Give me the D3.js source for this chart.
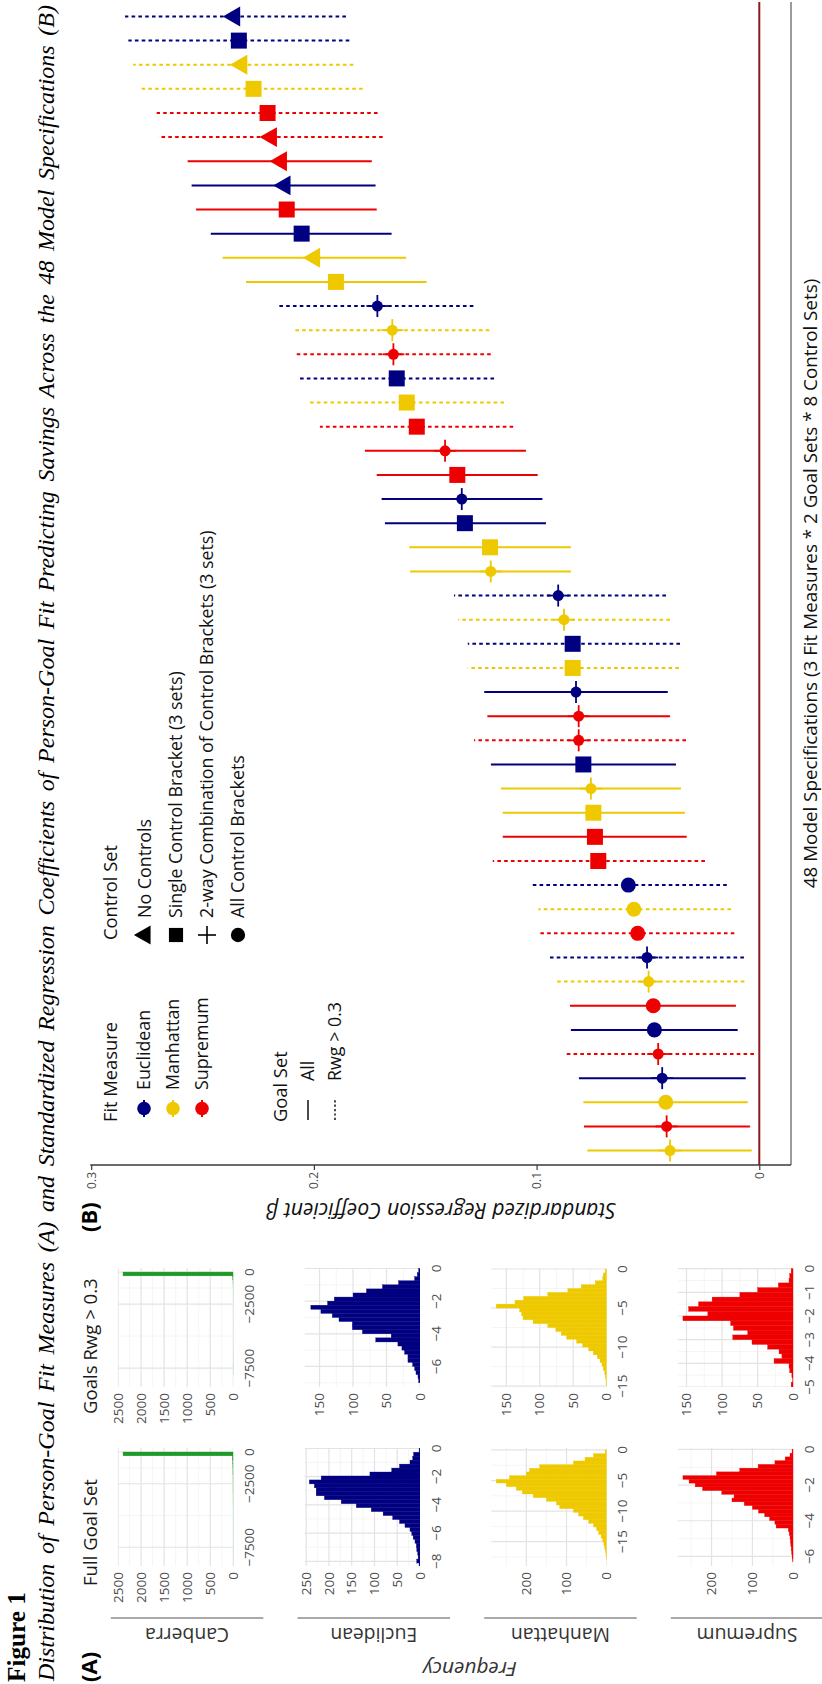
<!DOCTYPE html>
<html><head><meta charset="utf-8">
<script src="https://cdn.jsdelivr.net/npm/d3@7"></script>
<style>html,body{margin:0;padding:0;background:#fff;} svg{display:block;}</style>
</head><body>
<script>
// ================= DATA =================
const subtitleText = "Distribution of Person-Goal Fit Measures (A) and Standardized Regression Coefficients of Person-Goal Fit Predicting Savings Across the 48 Model Specifications (B)";
const fitMeasures = ["Euclidean", "Manhattan", "Supremum"];
const goalSets = ["All", "Rwg > 0.3"];
const controlSets = ["No Controls", "Single Control Bracket (3 sets)", "2-way Combination of Control Brackets (3 sets)", "All Control Brackets"];
const histRows = ["Canberra", "Euclidean", "Manhattan", "Supremum"];
const histCols = ["Full Goal Set", "Goals Rwg > 0.3"];

// Panel B: 48 specifications ordered by estimate (E/M/S fit; A/R goal set; N/S/T/A control set)
const specFit = "M S M E S E S M E S M E S S M M E S S E M E M E M M E E S S S M E S M E M M E S E S S S M M E E".split(" ");
const specGoal = "A A A A R A A R R R R R R A A A A R A A R R R R A A A A A A R R R R R R A A A A A A R R R R R R".split(" ");
const specControl = "T T A T T A A T T A A A S S S T S T T T S S T T T S S T S T S S S T T T S N S S N N N S S N S N".split(" ");
const specEstimate = [0.0401,0.0416,0.0420,0.0436,0.0454,0.0471,0.0476,0.0497,0.0504,0.0546,0.0563,0.0588,0.0723,0.0738,0.0745,0.0756,0.0790,0.0811,0.0811,0.0823,0.0838,0.0838,0.0877,0.0903,0.1206,0.1209,0.1322,0.1336,0.1356,0.1411,0.1538,0.1583,0.1628,0.1643,0.1648,0.1715,0.1901,0.1998,0.2055,0.2122,0.2131,0.2147,0.2192,0.2208,0.2271,0.2325,0.2337,0.2357];
const specLower = [0.0034,0.0042,0.0052,0.0061,0.0024,0.0097,0.0105,0.0067,0.0069,0.0112,0.0127,0.0146,0.0244,0.0326,0.0334,0.0352,0.0374,0.0329,0.0401,0.0411,0.0361,0.0356,0.0401,0.0419,0.0846,0.0846,0.0958,0.0974,0.0995,0.1048,0.1105,0.1146,0.1191,0.1206,0.1212,0.1284,0.1494,0.1586,0.1651,0.1718,0.1723,0.1740,0.1691,0.1714,0.1781,0.1823,0.1841,0.1856];
const specUpper = [0.0772,0.0787,0.0790,0.0810,0.0872,0.0846,0.0850,0.0917,0.0940,0.0985,0.0992,0.1030,0.1197,0.1152,0.1152,0.1160,0.1205,0.1281,0.1221,0.1235,0.1309,0.1309,0.1352,0.1371,0.1568,0.1572,0.1681,0.1696,0.1718,0.1771,0.1973,0.2021,0.2066,0.2077,0.2085,0.2155,0.2305,0.2410,0.2463,0.2529,0.2549,0.2567,0.2699,0.2706,0.2773,0.2811,0.2833,0.2848];
const betaTicks = [0, 0.1, 0.2, 0.3];

// Panel A histograms: counts per bin, bins running from 0 downwards
const canberraBin = [300, 300];
const canberraFull = [2391,20,12,10,8,8,6,6,5,5,5,4,4,4,3,3,3,3,3,2,2,2,2,2,2,2,2,2,2,2];
const canberraRwg  = [2392,12,6,4,3,2,2,1,1,1,1,1,1,1,1,1,1,1,1,1,1,2,2,2,3,2,2,0,0,0];
const euclideanBin = [0.28, 0.25];
const euclideanFull = [2,14,16,22,45,62,110,217,243,232,228,228,210,173,140,107,81,60,45,33,22,18,15,11,8,7,5,4,7,2];
const euclideanRwg  = [2,4,8,32,56,80,100,128,138,163,148,131,121,101,101,86,43,66,33,27,23,18,18,11,8,6,3,2];
const manhattanBin = [0.6, 0.5];
const manhattanFull = [4,33,54,83,167,192,200,242,275,250,225,210,183,150,125,117,83,70,58,45,33,25,20,14,10,7,5,3,2,1];
const manhattanRwg  = [2,5,6,17,38,58,88,124,137,165,130,127,125,110,88,76,68,60,45,36,27,20,14,10,7,5,3,2,1,1];
const supremumBin = [0.21, 0.2];
const supremumFull = [3,8,20,45,86,131,188,270,255,240,222,175,145,150,120,100,85,70,58,45,42,12,10,8,7,6,5,4,3,2];
const supremumRwg  = [3,5,6,21,50,75,114,133,147,120,155,88,84,64,85,58,36,20,16,27,6,5,2,1,3];

// axis breaks for the histogram panels
const histXBreaks = {
  Canberra: [[-7500,-2500,0],[-7500,-2500,0]],
  Euclidean: [[-8,-6,-4,-2,0],[-6,-4,-2,0]],
  Manhattan: [[-15,-10,-5,0],[-15,-10,-5,0]],
  Supremum: [[-6,-4,-2,0],[-5,-4,-3,-2,-1,0]]
};
const histXMinor = {
  Canberra: [[-5000,-1250],[-5000,-1250]],
  Euclidean: [[-7,-5,-3,-1],[-7,-5,-3,-1]],
  Manhattan: [[-17.5,-12.5,-7.5,-2.5],[-12.5,-7.5,-2.5]],
  Supremum: [[-5,-3,-1],[-4.5,-3.5,-2.5,-1.5,-0.5]]
};
const histYBreaks = {
  Canberra: [[0,500,1000,1500,2000,2500],[0,500,1000,1500,2000,2500]],
  Euclidean: [[0,50,100,150,200,250],[0,50,100,150]],
  Manhattan: [[0,100,200],[0,50,100,150]],
  Supremum: [[0,100,200],[0,50,100,150]]
};
const histYMinor = {
  Canberra: [[250,750,1250,1750,2250],[250,750,1250,1750,2250]],
  Euclidean: [[25,75,125,175,225],[25,75,125]],
  Manhattan: [[50,150,250],[25,75,125]],
  Supremum: [[50,150,250],[25,75,125]]
};
const histXDomain = {
  Canberra: [[-8976,315],[-8976,315]],
  Euclidean: [[-8.33,0.02],[-7.26,0.03]],
  Manhattan: [[-18.97,0.32],[-15.12,0.13]],
  Supremum: [[-6.54,0.08],[-5.0,0.03]]
};
const histYMax = {
  Canberra: [2505,2505],
  Euclidean: [253.7,172.5],
  Manhattan: [287.5,172.5],
  Supremum: [282.6,162.2]
};

// ================= STYLE =================
const SANS = "'Open Sans', 'Noto Sans', 'DejaVu Sans', sans-serif";
const SERIF = "'Liberation Serif', 'Times New Roman', serif";
const fitColor = {E: "#000080", M: "#EEC900", S: "#EE0000"};
const histColor = {Canberra: "#1f9a27", Euclidean: "#000080", Manhattan: "#EEC900", Supremum: "#EE0000"};
const DOT = "3.6,3.2";
const minus = v => v < 0 ? "\u2212" + Math.abs(v) : String(v);

function fitTo(sel, target) {
  const L = sel.node().getComputedTextLength();
  const fs = parseFloat(sel.attr("font-size"));
  const nf = fs * target / L;
  sel.attr("font-size", nf);
  return nf;
}

// ================= SVG (landscape figure rotated onto the portrait page) =================
const svg = d3.select("body").append("svg").attr("width", 822).attr("height", 1684);
svg.append("rect").attr("width", 822).attr("height", 1684).attr("fill", "#fff");
const g = svg.append("g").attr("transform", "translate(0,1684) rotate(-90)");

// Titles
const t1 = g.append("text").attr("x", 2).attr("y", 25).attr("font-family", SERIF)
  .attr("font-weight", "bold").attr("font-size", 22).attr("fill", "#000").text("Figure 1");
fitTo(t1, 90);
const st = g.append("text").attr("x", 3).attr("y", 54).attr("font-family", SERIF)
  .attr("font-style", "italic").attr("font-size", 24).attr("fill", "#000").text(subtitleText);
{
  const L = st.node().getComputedTextLength();
  const nsp = subtitleText.split(" ").length - 1;
  st.attr("word-spacing", (1676 - L) / nsp);
}
g.append("text").attr("x", 2).attr("y", 97).attr("font-family", SANS).attr("font-weight", "bold")
  .attr("font-size", 22).attr("fill", "#000").text("(A)");
g.append("text").attr("x", 452).attr("y", 97).attr("font-family", SANS).attr("font-weight", "bold")
  .attr("font-size", 22).attr("fill", "#000").text("(B)");

// ================= PANEL A =================
const colRange = [[118, 236], [297, 416]];
const rowBottom = [233.3, 420, 606.7, 793.3];
const panelH = 115.5;
const histData = {
  Canberra: [canberraFull, canberraRwg], Euclidean: [euclideanFull, euclideanRwg],
  Manhattan: [manhattanFull, manhattanRwg], Supremum: [supremumFull, supremumRwg]
};
const histBin = {Canberra: canberraBin, Euclidean: euclideanBin, Manhattan: manhattanBin, Supremum: supremumBin};

const defs = svg.append("defs");
let colTitleSize = null;
const rowLabels = [];

histRows.forEach((name, r) => {
  const yb = rowBottom[r], yt = yb - panelH;
  [0, 1].forEach(c => {
    const [x0, x1] = colRange[c];
    const xs = d3.scaleLinear().domain(histXDomain[name][c]).range([x0, x1]);
    const ys = d3.scaleLinear().domain([0, histYMax[name][c]]).range([yb, yt]);
    const pg = g.append("g");
    const id = `clip${r}${c}`;
    defs.append("clipPath").attr("id", id).append("rect")
      .attr("x", x0).attr("y", yt).attr("width", x1 - x0).attr("height", yb - yt);
    const grid = pg.append("g").attr("clip-path", `url(#${id})`);
    grid.selectAll("line.mx").data(histXMinor[name][c]).join("line")
      .attr("x1", d => xs(d)).attr("x2", d => xs(d)).attr("y1", yt).attr("y2", yb)
      .attr("stroke", "#f1f1f1").attr("stroke-width", 0.7);
    grid.selectAll("line.my").data(histYMinor[name][c]).join("line")
      .attr("x1", x0).attr("x2", x1).attr("y1", d => ys(d)).attr("y2", d => ys(d))
      .attr("stroke", "#f1f1f1").attr("stroke-width", 0.7);
    grid.append("g").selectAll("line").data(histXBreaks[name][c]).join("line")
      .attr("x1", d => xs(d)).attr("x2", d => xs(d)).attr("y1", yt).attr("y2", yb)
      .attr("stroke", "#e3e3e3").attr("stroke-width", 1.2);
    grid.append("g").selectAll("line").data(histYBreaks[name][c]).join("line")
      .attr("x1", x0).attr("x2", x1).attr("y1", d => ys(d)).attr("y2", d => ys(d))
      .attr("stroke", "#e3e3e3").attr("stroke-width", 1.2);
    const bw = histBin[name][c];
    grid.append("g").selectAll("rect").data(histData[name][c]).join("rect")
      .attr("x", (d, k) => xs(-(k + 1) * bw))
      .attr("width", (d, k) => xs(-k * bw) - xs(-(k + 1) * bw))
      .attr("y", d => ys(d)).attr("height", d => ys(0) - ys(d))
      .attr("fill", histColor[name]).attr("stroke", histColor[name]).attr("stroke-width", 0.35);
    pg.append("g").selectAll("text").data(histYBreaks[name][c]).join("text")
      .attr("x", x0 - 6).attr("y", d => ys(d)).attr("dy", "0.35em").attr("text-anchor", "end")
      .attr("font-family", SANS).attr("font-size", 13.5).attr("fill", "#4d4d4d").text(d => d);
    pg.append("g").selectAll("text").data(histXBreaks[name][c]).join("text")
      .attr("x", d => xs(d)).attr("y", yb + 16).attr("dy", "0.35em").attr("text-anchor", "middle")
      .attr("font-family", SANS).attr("font-size", 13.5).attr("fill", "#4d4d4d").text(d => minus(d));
    if (r === 0) {
      const tt = g.append("text").attr("x", c === 0 ? 98 : 270).attr("y", 97)
        .attr("font-family", SANS).attr("font-size", 18).attr("fill", "#1a1a1a").text(histCols[c]);
      if (colTitleSize === null) colTitleSize = fitTo(tt, 107); else tt.attr("font-size", colTitleSize);
    }
  });
  g.append("line").attr("x1", 66).attr("x2", 66).attr("y1", yt - 7).attr("y2", yb + 30)
    .attr("stroke", "#8c8c8c").attr("stroke-width", 1.6);
  rowLabels.push(g.append("text").attr("transform", `translate(56,${(yt - 7 + yb + 30) / 2}) rotate(-90)`)
    .attr("text-anchor", "middle").attr("font-family", SANS).attr("font-size", 17)
    .attr("fill", "#333").text(name));
});
{
  const rs = fitTo(rowLabels[1], 87);
  rowLabels.forEach(t => t.attr("font-size", rs));
}

const fq = g.append("text").attr("transform", "translate(22,470) rotate(-90)").attr("text-anchor", "middle")
  .attr("font-family", SANS).attr("font-style", "italic").attr("font-size", 16).attr("fill", "#333").text("Frequency");
fitTo(fq, 94);

// ================= PANEL B =================
const xB = d3.scaleLinear().domain([0.4, 48.6]).range([519, 1682]);
const yB = d3.scaleLinear().domain([-0.01424, 0.3]).range([791, 91.2]);
const specIdx = d3.range(48);

g.append("line").attr("x1", xB(0.4)).attr("x2", xB(48.6)).attr("y1", yB(0)).attr("y2", yB(0))
  .attr("stroke", "#8e1a1e").attr("stroke-width", 2);
g.append("line").attr("x1", 519).attr("x2", xB(48.6)).attr("y1", 791).attr("y2", 791)
  .attr("stroke", "#7a7a7a").attr("stroke-width", 1.5);
const yAx = g.append("g").attr("transform", "translate(519,0)")
  .call(d3.axisLeft(yB).tickValues(betaTicks).tickSize(5).tickSizeOuter(0)
    .tickFormat(d => d === 0 ? "0" : d3.format(".1f")(d)));
yAx.select(".domain").attr("d", `M0,${yB(0.3) - 1}V791`).attr("stroke", "#3a3a3a").attr("stroke-width", 1.3);
yAx.selectAll(".tick line").attr("stroke", "#3a3a3a").attr("stroke-width", 1.2);
yAx.selectAll(".tick text").attr("font-family", SANS).attr("font-size", 12).attr("fill", "#4d4d4d").attr("x", -7);

const xt = g.append("text").attr("x", (519 + 1682) / 2).attr("y", 817).attr("text-anchor", "middle")
  .attr("font-family", SANS).attr("font-size", 16).attr("fill", "#111")
  .text("48 Model Specifications (3 Fit Measures * 2 Goal Sets * 8 Control Sets)");
fitTo(xt, 610);
const ytl = g.append("text").attr("transform", `translate(481,${(91 + 791) / 2}) rotate(-90)`).attr("text-anchor", "middle")
  .attr("font-family", SANS).attr("font-style", "italic").attr("font-size", 17).attr("fill", "#111")
  .text("Standardized Regression Coefficient \u03B2");
fitTo(ytl, 350);

const marks = g.append("g");
marks.selectAll("line.ci").data(specIdx).join("line").attr("class", "ci")
  .attr("x1", i => xB(i + 1)).attr("x2", i => xB(i + 1))
  .attr("y1", i => yB(specLower[i])).attr("y2", i => yB(specUpper[i]))
  .attr("stroke", i => fitColor[specFit[i]]).attr("stroke-width", 2)
  .attr("stroke-dasharray", i => specGoal[i] === "R" ? DOT : null);
marks.selectAll("circle.pt").data(specIdx).join("circle").attr("class", "pt")
  .attr("cx", i => xB(i + 1)).attr("cy", i => yB(specEstimate[i])).attr("r", 5.5)
  .attr("fill", i => fitColor[specFit[i]]);
const symType = {N: d3.symbolTriangle, S: d3.symbolSquare, A: d3.symbolCircle};
const symSize = {N: 173, S: 256, A: 177};
const shapeIdx = specIdx.filter(i => specControl[i] !== "T");
marks.selectAll("path.sh").data(shapeIdx).join("path").attr("class", "sh")
  .attr("transform", i => `translate(${xB(i + 1)},${yB(specEstimate[i])})`)
  .attr("d", i => d3.symbol(symType[specControl[i]], symSize[specControl[i]])())
  .attr("fill", i => fitColor[specFit[i]]);
const plusIdx = specIdx.filter(i => specControl[i] === "T");
const pl = marks.selectAll("g.pl").data(plusIdx).join("g").attr("class", "pl")
  .attr("transform", i => `translate(${xB(i + 1)},${yB(specEstimate[i])})`);
pl.append("line").attr("x1", -11).attr("x2", 11).attr("y1", 0).attr("y2", 0)
  .attr("stroke", i => fitColor[specFit[i]]).attr("stroke-width", 1.8);
pl.append("line").attr("x1", 0).attr("x2", 0).attr("y1", -11).attr("y2", 11)
  .attr("stroke", i => fitColor[specFit[i]]).attr("stroke-width", 1.8);

// ================= LEGENDS =================
const leg = g.append("g").attr("font-family", SANS).attr("fill", "#111");
const titleFit = leg.append("text").attr("x", 562).attr("y", 117).attr("font-size", 18).text("Fit Measure");
const titleSize = fitTo(titleFit, 100);
leg.append("text").attr("x", 562).attr("y", 287).attr("font-size", titleSize).text("Goal Set");
leg.append("text").attr("x", 744).attr("y", 117).attr("font-size", titleSize).text("Control Set");

const probe = leg.append("text").attr("x", 766).attr("y", 207).attr("dy", "0.35em").attr("font-size", 17).text(controlSets[2]);
const labSize = fitTo(probe, 388);
probe.remove();

const fitY = [144, 173, 202];
const fitCodes = ["E", "M", "S"];
fitMeasures.forEach((f, k) => {
  leg.append("line").attr("x1", 567).attr("x2", 584).attr("y1", fitY[k]).attr("y2", fitY[k])
    .attr("stroke", fitColor[fitCodes[k]]).attr("stroke-width", 2);
  leg.append("circle").attr("cx", 575.5).attr("cy", fitY[k]).attr("r", 6.8).attr("fill", fitColor[fitCodes[k]]);
  leg.append("text").attr("x", 594).attr("y", fitY[k]).attr("dy", "0.35em").attr("font-size", labSize).text(f);
});
const goalY = [308, 335];
goalSets.forEach((s, k) => {
  leg.append("line").attr("x1", 564).attr("x2", 584).attr("y1", goalY[k]).attr("y2", goalY[k])
    .attr("stroke", "#111").attr("stroke-width", 1.5).attr("stroke-dasharray", k === 1 ? "2.2,2.2" : null);
  leg.append("text").attr("x", 603).attr("y", goalY[k]).attr("dy", "0.35em").attr("font-size", labSize).text(s);
});
const ctrlY = [145, 176, 207, 238];
const ctrlCodes = ["N", "S", "T", "A"];
controlSets.forEach((s, k) => {
  const code = ctrlCodes[k];
  if (code === "T") {
    leg.append("line").attr("x1", 740).attr("x2", 758).attr("y1", ctrlY[k]).attr("y2", ctrlY[k]).attr("stroke", "#000").attr("stroke-width", 1.6);
    leg.append("line").attr("x1", 749).attr("x2", 749).attr("y1", ctrlY[k] - 9).attr("y2", ctrlY[k] + 9).attr("stroke", "#000").attr("stroke-width", 1.6);
  } else {
    leg.append("path").attr("transform", `translate(749,${ctrlY[k]})`)
      .attr("d", d3.symbol(symType[code], code === "S" ? 200 : 160)()).attr("fill", "#000");
  }
  leg.append("text").attr("x", 766).attr("y", ctrlY[k]).attr("dy", "0.35em").attr("font-size", labSize).text(s);
});
</script>
</body></html>
